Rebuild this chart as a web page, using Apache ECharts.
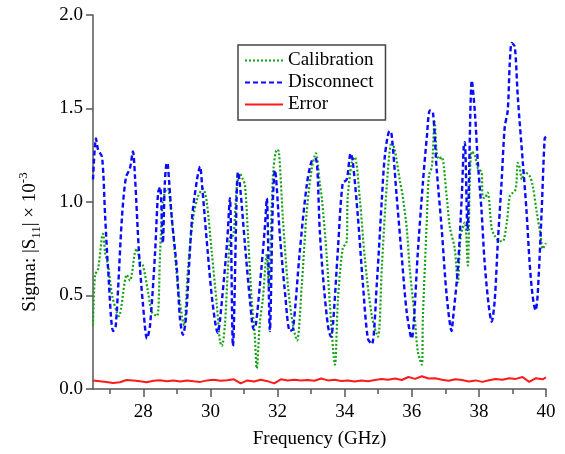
<!DOCTYPE html>
<html>
<head>
<meta charset="utf-8">
<script src="https://cdn.jsdelivr.net/npm/echarts@6/dist/echarts.min.js"></script>
<style>
  html, body { margin: 0; padding: 0; background: #fff; }
  #chart { width: 565px; height: 454px; }
</style>
</head>
<body>
<div id="chart"></div>
<script>
// Calibration (green dotted)
var calFreq = [26.50, 26.56, 26.65, 26.77, 26.80, 26.86, 26.95, 27.07, 27.21, 27.27, 27.51, 27.60, 27.75, 27.81, 27.90, 27.99,
  28.14, 28.26, 28.41, 28.50, 28.58, 28.70, 28.73, 28.85, 28.94, 29.03, 29.15, 29.21, 29.33, 29.48, 29.63, 29.78, 29.89,
  30.04, 30.19, 30.28, 30.34, 30.43, 30.52, 30.61, 30.67, 30.79, 30.88, 30.97, 31.03, 31.12, 31.23, 31.32, 31.38, 31.47,
  31.56, 31.68, 31.74, 31.83, 31.88, 31.98, 32.04, 32.16, 32.31, 32.46, 32.58, 32.72, 32.87, 33.02, 33.14, 33.26, 33.32,
  33.47, 33.56, 33.71, 33.80, 33.94, 34.06, 34.09, 34.21, 34.30, 34.45, 34.60, 34.81, 34.99, 35.11, 35.26, 35.40, 35.49,
  35.64, 35.73, 35.85, 35.94, 36.09, 36.18, 36.30, 36.33, 36.45, 36.51, 36.60, 36.68, 36.74, 36.80, 36.89, 37.04, 37.13,
  37.28, 37.37, 37.46, 37.58, 37.67, 37.73, 37.79, 37.88, 37.97, 38.08, 38.11, 38.17, 38.26, 38.38, 38.47, 38.62, 38.71,
  38.83, 38.92, 39.01, 39.10, 39.16, 39.22, 39.28, 39.36, 39.51, 39.60, 39.72, 39.84, 39.90, 40.00];
var calVals = [0.34, 0.61, 0.64, 0.82, 0.83, 0.73, 0.66, 0.50, 0.41, 0.39, 0.61, 0.58, 0.73, 0.75, 0.68, 0.66,
  0.52, 0.41, 0.39, 0.73, 1.00, 1.07, 1.07, 0.91, 0.73, 0.55, 0.39, 0.34, 0.64, 0.91, 1.03, 1.07, 1.00,
  0.73, 0.45, 0.26, 0.23, 0.34, 0.64, 0.82, 0.82, 1.09, 1.15, 1.12, 1.09, 0.82, 0.47, 0.29, 0.11, 0.35,
  0.48, 0.72, 0.55, 1.00, 1.18, 1.28, 1.27, 0.91, 0.55, 0.34, 0.26, 0.55, 0.95, 1.18, 1.26, 1.10, 1.02,
  0.70, 0.45, 0.13, 0.48, 0.75, 0.79, 1.02, 1.21, 1.24, 1.02, 0.70, 0.39, 0.28, 0.66, 1.10, 1.32, 1.28,
  1.12, 1.03, 0.86, 0.64, 0.38, 0.20, 0.13, 0.38, 0.91, 1.14, 1.19, 1.43, 1.27, 1.23, 1.24, 1.03, 0.87,
  0.75, 0.57, 0.82, 0.89, 0.66, 1.12, 1.27, 1.25, 1.18, 1.16, 1.03, 1.02, 1.05, 0.86, 0.82, 0.79, 0.79,
  0.89, 1.03, 1.05, 1.07, 1.21, 1.18, 1.12, 1.16, 1.14, 1.09, 0.95, 0.82, 0.75, 0.78];

// Disconnect (blue dashed)
var discFreq = [26.50, 26.59, 26.65, 26.77, 26.86, 26.95, 27.10, 27.18, 27.36, 27.48, 27.60, 27.69, 27.75, 27.87, 27.99,
  28.11, 28.20, 28.35, 28.44, 28.50, 28.58, 28.64, 28.70, 28.73, 28.85, 29.00, 29.09, 29.18, 29.27, 29.45, 29.60, 29.69,
  29.75, 29.92, 30.07, 30.22, 30.28, 30.49, 30.58, 30.67, 30.79, 30.82, 30.88, 31.03, 31.18, 31.29, 31.35, 31.47, 31.62,
  31.68, 31.77, 31.86, 31.92, 32.07, 32.22, 32.37, 32.46, 32.66, 32.87, 33.02, 33.14, 33.26, 33.35, 33.50, 33.59, 33.65,
  33.80, 33.94, 34.06, 34.18, 34.24, 34.39, 34.54, 34.69, 34.81, 34.96, 35.11, 35.20, 35.34, 35.40, 35.55, 35.70, 35.85,
  36.00, 36.06, 36.18, 36.33, 36.45, 36.54, 36.63, 36.74, 36.89, 37.04, 37.19, 37.22, 37.37, 37.49, 37.55, 37.58, 37.66,
  37.79, 37.88, 37.97, 38.08, 38.17, 38.29, 38.38, 38.47, 38.56, 38.68, 38.77, 38.86, 38.92, 38.98, 39.07, 39.16, 39.31,
  39.42, 39.51, 39.60, 39.69, 39.75, 39.87, 39.96, 40.00];
var discVals = [1.12, 1.34, 1.28, 1.24, 0.93, 0.64, 0.31, 0.34, 0.91, 1.13, 1.18, 1.27, 1.14, 0.73, 0.45,
  0.27, 0.34, 0.73, 1.05, 1.08, 0.78, 1.10, 1.21, 1.20, 0.91, 0.64, 0.38, 0.29, 0.38, 0.91, 1.12, 1.19,
  1.09, 0.73, 0.45, 0.30, 0.36, 0.77, 1.02, 0.23, 1.09, 1.16, 1.09, 0.77, 0.47, 0.32, 0.34, 0.55, 0.86,
  1.02, 0.31, 1.00, 1.17, 0.82, 0.52, 0.31, 0.32, 0.73, 1.09, 1.22, 1.23, 0.84, 0.61, 0.34, 0.28, 0.34,
  0.75, 1.10, 1.12, 1.26, 1.22, 0.93, 0.57, 0.27, 0.24, 0.57, 1.02, 1.25, 1.38, 1.36, 1.03, 0.71, 0.41,
  0.27, 0.36, 0.73, 1.10, 1.35, 1.49, 1.48, 1.18, 0.86, 0.50, 0.31, 0.36, 0.64, 1.03, 1.30, 1.32, 0.85,
  1.65, 1.48, 1.21, 0.95, 0.68, 0.45, 0.36, 0.47, 0.77, 1.12, 1.40, 1.49, 1.74, 1.85, 1.83, 1.56, 1.21,
  0.95, 0.68, 0.50, 0.42, 0.50, 0.95, 1.34, 1.35];

// Error (red solid)
var errFreq = [26.5, 26.7, 26.9, 27.1, 27.3, 27.5, 27.7, 27.9, 28.1, 28.3, 28.5, 28.7, 28.9, 29.1, 29.3, 29.5, 29.7, 29.9,
  30.1, 30.3, 30.5, 30.7, 30.9, 31.1, 31.3, 31.5, 31.7, 31.9, 32.1, 32.3, 32.5, 32.7, 32.9, 33.1, 33.3, 33.5, 33.7, 33.9,
  34.1, 34.3, 34.5, 34.7, 34.9, 35.1, 35.3, 35.5, 35.7, 35.9, 36.1, 36.3, 36.5, 36.7, 36.9, 37.1, 37.3, 37.5, 37.7, 37.9,
  38.1, 38.3, 38.5, 38.7, 38.9, 39.1, 39.3, 39.5, 39.7, 39.9, 40.0];
var errVals = [0.045, 0.042, 0.038, 0.032, 0.036, 0.048, 0.046, 0.042, 0.036, 0.044, 0.047, 0.042, 0.045, 0.040, 0.046, 0.041, 0.038, 0.046,
  0.049, 0.044, 0.047, 0.052, 0.030, 0.046, 0.040, 0.049, 0.042, 0.030, 0.052, 0.046, 0.050, 0.045, 0.048, 0.044, 0.056, 0.046, 0.049, 0.043,
  0.046, 0.040, 0.045, 0.042, 0.048, 0.053, 0.050, 0.056, 0.048, 0.064, 0.054, 0.068, 0.056, 0.058, 0.050, 0.044, 0.052, 0.048, 0.040, 0.046,
  0.038, 0.047, 0.053, 0.050, 0.058, 0.054, 0.064, 0.038, 0.058, 0.052, 0.062];

var majorTicks = [28, 30, 32, 34, 36, 38, 40];
var minorTicks = [27, 29, 31, 33, 35, 37, 39];

function pairs(xs, ys) {
  return xs.map(function (x, i) { return [x, ys[i]]; });
}

var font = 'Liberation Serif';
var axisColor = '#555';
var fs = 19;

var chart = echarts.init(document.getElementById('chart'));
chart.setOption({
  animation: false,
  grid: { left: 93, right: 19, top: 15, bottom: 63 },
  legend: {
    orient: 'vertical',
    left: 238,
    top: 45,
    padding: [6, 12, 6, 6],
    itemGap: 3,
    itemWidth: 38,
    itemHeight: 14,
    backgroundColor: '#fff',
    borderColor: '#444',
    borderWidth: 1.5,
    itemStyle: { opacity: 0 },
    textStyle: { fontFamily: font, fontSize: fs, color: '#000' },
    data: ['Calibration', 'Disconnect', 'Error']
  },
  xAxis: [{
    type: 'value',
    min: 26.5,
    max: 40,
    name: 'Frequency (GHz)',
    nameLocation: 'middle',
    nameGap: 41,
    nameTextStyle: { fontFamily: font, fontSize: fs, color: '#000' },
    axisLine: { lineStyle: { color: axisColor, width: 1.5 } },
    axisTick: { customValues: majorTicks, length: 8, lineStyle: { color: axisColor, width: 1.5 } },
    axisLabel: { customValues: majorTicks, margin: 14, fontFamily: font, fontSize: fs, color: '#000' },
    splitLine: { show: false }
  }, {
    type: 'value',
    position: 'bottom',
    min: 26.5,
    max: 40,
    axisLine: { show: false },
    axisTick: { customValues: minorTicks, length: 5, lineStyle: { color: axisColor, width: 1.5 } },
    axisLabel: { show: false },
    splitLine: { show: false }
  }],
  yAxis: {
    type: 'value',
    min: 0,
    max: 2,
    interval: 0.5,
    name: 'Sigma: |S{sub|11}| × 10{sup|-3}',
    nameLocation: 'middle',
    nameGap: 50,
    nameTextStyle: {
      fontFamily: font, fontSize: fs, color: '#000', lineHeight: 26,
      padding: [0, 80, 0, 0],
      rich: {
        sub: { fontFamily: font, fontSize: 13, lineHeight: 13, verticalAlign: 'bottom', color: '#000' },
        sup: { fontFamily: font, fontSize: 13, lineHeight: 13, verticalAlign: 'top', color: '#000' }
      }
    },
    axisLine: { show: true, lineStyle: { color: axisColor, width: 1.5 } },
    axisTick: { show: true, length: 7, lineStyle: { color: axisColor, width: 1.5 } },
    axisLabel: {
      margin: 10, fontFamily: font, fontSize: fs, color: '#000',
      formatter: function (v) { return v.toFixed(1); }
    },
    splitLine: { show: false }
  },
  series: [{
    name: 'Calibration',
    type: 'line',
    symbol: 'none',
    smooth: 0.3,
    data: pairs(calFreq, calVals),
    itemStyle: { color: '#17a117' },
    lineStyle: { color: '#17a117', width: 2.2, type: [2, 2] }
  }, {
    name: 'Disconnect',
    type: 'line',
    symbol: 'none',
    smooth: 0.3,
    data: pairs(discFreq, discVals),
    itemStyle: { color: '#0a0aff' },
    lineStyle: { color: '#0a0aff', width: 2.4, type: [5, 3] }
  }, {
    name: 'Error',
    type: 'line',
    symbol: 'none',
    data: pairs(errFreq, errVals),
    itemStyle: { color: '#ff1a1a' },
    lineStyle: { color: '#ff1a1a', width: 2 }
  }]
});
</script>
</body>
</html>
